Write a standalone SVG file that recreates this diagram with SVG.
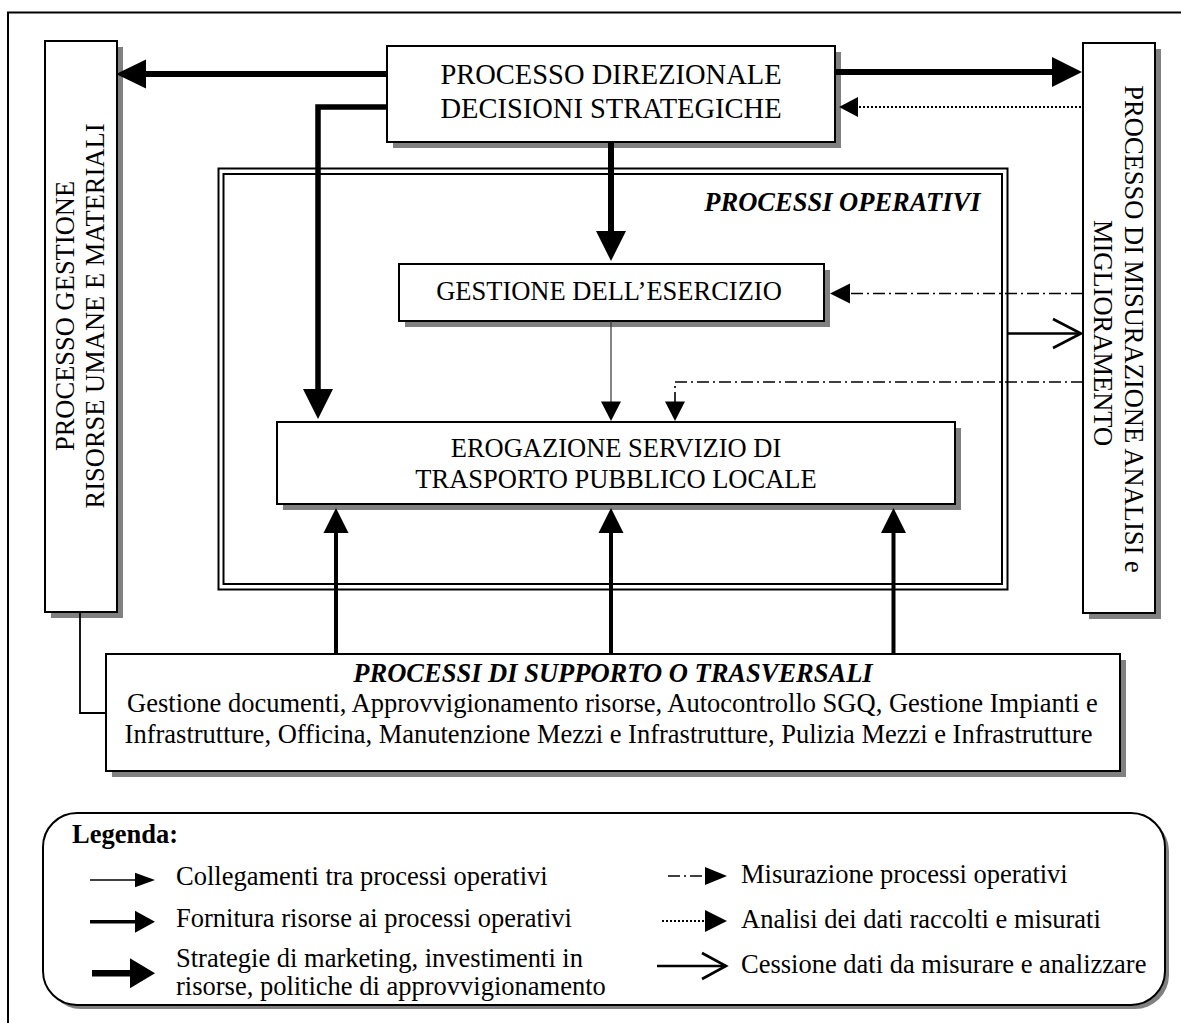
<svg xmlns="http://www.w3.org/2000/svg" width="1181" height="1023" viewBox="0 0 1181 1023">
<style>
text { font-family: "Liberation Serif", "Times New Roman", serif; font-size: 26.5px; fill: #000; }
.big { font-size: 28.5px; }
.bi { font-weight: bold; font-style: italic; }
.b { font-weight: bold; }
.mid { text-anchor: middle; }
.box { fill: #fff; stroke: #000; stroke-width: 2; }
.sh { fill: #808080; stroke: none; }
.frame { fill: none; stroke: #000; stroke-width: 2; }
.head { fill: #000; stroke: none; }
.w6 { stroke: #000; stroke-width: 6; fill: none; }
.w5 { stroke: #000; stroke-width: 5.5; fill: none; }
.w4 { stroke: #000; stroke-width: 4; fill: none; }
.thin { stroke: #333; stroke-width: 1.2; fill: none; }
.link { stroke: #000; stroke-width: 1.8; fill: none; }
.dashdot { stroke: #000; stroke-width: 1.6; fill: none; stroke-dasharray: 12 4 2 4; }
.dotted { stroke: #000; stroke-width: 1.8; fill: none; stroke-dasharray: 2 2; }
.open { stroke: #000; stroke-width: 2.6; fill: none; }
</style>

<!-- outer frame (clipped at right and bottom) -->
<path class="frame" d="M8,1023 V12.5 H1181"/>

<g id="processi-operativi">
  <rect class="frame" x="218.5" y="168.5" width="789" height="421"/>
  <rect class="frame" x="223.5" y="174" width="778.5" height="410"/>
  <text class="bi" x="980.5" y="210.7" text-anchor="end">PROCESSI OPERATIVI</text>
</g>

<g id="processo-direzionale">
  <rect class="sh" x="393" y="52" width="448" height="96"/>
  <rect class="box" x="387" y="46" width="448" height="96"/>
  <text class="mid big" x="611" y="83.5">PROCESSO DIREZIONALE</text>
  <text class="mid big" x="611" y="117.5">DECISIONI STRATEGICHE</text>
</g>

<g id="processo-gestione-risorse">
  <rect class="sh" x="51" y="47" width="72" height="571"/>
  <rect class="box" x="45" y="41" width="72" height="571"/>
  <text class="mid" transform="translate(73.5,316) rotate(-90)">PROCESSO GESTIONE</text>
  <text class="mid" transform="translate(104,316) rotate(-90)">RISORSE UMANE E MATERIALI</text>
</g>

<g id="processo-misurazione">
  <rect class="sh" x="1089" y="49" width="72" height="570"/>
  <rect class="box" x="1083" y="43" width="72" height="570"/>
  <text class="mid" transform="translate(1125,329) rotate(90)">PROCESSO DI MISURAZIONE ANALISI e</text>
  <text class="mid" transform="translate(1093.5,333) rotate(90)">MIGLIORAMENTO</text>
</g>

<g id="gestione-esercizio">
  <rect class="sh" x="405" y="270" width="425" height="57"/>
  <rect class="box" x="399" y="264" width="425" height="57"/>
  <text class="mid" x="609" y="300">GESTIONE DELL’ESERCIZIO</text>
</g>

<g id="erogazione-servizio">
  <rect class="sh" x="283" y="428" width="678" height="82"/>
  <rect class="box" x="277" y="422" width="678" height="82"/>
  <text class="mid" x="616" y="456.5">EROGAZIONE SERVIZIO DI</text>
  <text class="mid" x="616" y="488">TRASPORTO PUBBLICO LOCALE</text>
</g>

<g id="processi-supporto">
  <rect class="sh" x="112" y="660" width="1014" height="117"/>
  <rect class="box" x="106" y="654" width="1014" height="117"/>
  <text class="bi mid" x="613" y="681.5">PROCESSI DI SUPPORTO O TRASVERSALI</text>
  <text class="mid" x="612.5" y="711.7">Gestione documenti, Approvvigionamento risorse, Autocontrollo SGQ, Gestione Impianti e</text>
  <text class="mid" x="608.5" y="743.3">Infrastrutture, Officina, Manutenzione Mezzi e Infrastrutture, Pulizia Mezzi e Infrastrutture</text>
</g>

<g id="connectors">
  <!-- direzionale -> gestione risorse -->
  <line class="w6" x1="387" y1="74" x2="144" y2="74"/>
  <polygon class="head" points="116,74 146,59.5 146,88.5"/>
  <!-- direzionale -> erogazione -->
  <polyline class="w5" points="387,107 318,107 318,390"/>
  <polygon class="head" points="318,419 303,389 333,389"/>
  <!-- direzionale -> gestione esercizio -->
  <line class="w6" x1="611" y1="142" x2="611" y2="233"/>
  <polygon class="head" points="611,261 596,231 626,231"/>
  <!-- direzionale -> misurazione -->
  <line class="w6" x1="835" y1="72" x2="1054" y2="72"/>
  <polygon class="head" points="1082,72 1052,57 1052,87"/>
  <!-- misurazione -> direzionale (dotted) -->
  <line class="dotted" x1="1081" y1="107" x2="858" y2="107"/>
  <polygon class="head" points="839,107 858,97 858,117"/>
  <!-- misurazione -> gestione esercizio (dash-dot) -->
  <line class="dashdot" x1="1083" y1="293.5" x2="850" y2="293.5"/>
  <polygon class="head" points="830,293.5 850,283.5 850,303.5"/>
  <!-- processi operativi -> misurazione (open arrow) -->
  <line class="open" x1="1008" y1="333.5" x2="1081" y2="333.5"/>
  <polyline class="open" points="1053,319 1081,333.5 1053,348"/>
  <!-- misurazione -> erogazione (dash-dot) -->
  <polyline class="dashdot" points="1083,382 675,382 675,402"/>
  <polygon class="head" points="675,421 665,401.5 685,401.5"/>
  <!-- gestione esercizio -> erogazione (thin) -->
  <line class="thin" x1="611" y1="321" x2="611" y2="403"/>
  <polygon class="head" points="611,421 601,401.5 621,401.5"/>
  <!-- supporto -> erogazione -->
  <line class="w4" x1="336" y1="654" x2="336" y2="531"/>
  <polygon class="head" points="336,508 323.5,533 348.5,533"/>
  <line class="w4" x1="611" y1="654" x2="611" y2="531"/>
  <polygon class="head" points="611,508 598.5,533 623.5,533"/>
  <line class="w4" x1="893.5" y1="654" x2="893.5" y2="531"/>
  <polygon class="head" points="893.5,508 881,533 906,533"/>
  <!-- gestione risorse - supporto -->
  <polyline class="link" points="80,612 80,713 106,713"/>
</g>

<g id="legenda">
  <rect class="sh" x="47" y="817" width="1122" height="192" rx="34"/>
  <rect class="box" x="43" y="813" width="1122" height="192" rx="34"/>
  <text class="b" x="72" y="843">Legenda:</text>

  <line stroke="#000" stroke-width="1.5" x1="90" y1="880" x2="137" y2="880"/>
  <polygon class="head" points="155,880 135,872.7 135,887.3"/>
  <text x="176" y="885">Collegamenti tra processi operativi</text>

  <line stroke="#000" stroke-width="3.5" x1="90" y1="921.7" x2="137" y2="921.7"/>
  <polygon class="head" points="155,921.7 135,910.7 135,932.7"/>
  <text x="176" y="926.5">Fornitura risorse ai processi operativi</text>

  <line stroke="#000" stroke-width="6.5" x1="92" y1="973.3" x2="132" y2="973.3"/>
  <polygon class="head" points="155,973.3 130,958.3 130,988.3"/>
  <text x="176" y="967">Strategie di marketing, investimenti in</text>
  <text x="176" y="995">risorse, politiche di approvvigionamento</text>

  <line class="dashdot" stroke-dasharray="12 4 2 4 20" x1="668" y1="876" x2="706" y2="876"/>
  <polygon class="head" points="727,876 705,867 705,885"/>
  <text x="741" y="883">Misurazione processi operativi</text>

  <line class="dotted" stroke-width="3" x1="662" y1="921" x2="706" y2="921"/>
  <polygon class="head" points="727,921 705,910 705,932"/>
  <text x="741" y="928">Analisi dei dati raccolti e misurati</text>

  <line class="open" x1="657" y1="966" x2="726" y2="966"/>
  <polyline class="open" points="702,953 726,966 702,979"/>
  <text x="741" y="973">Cessione dati da misurare e analizzare</text>
</g>
</svg>
